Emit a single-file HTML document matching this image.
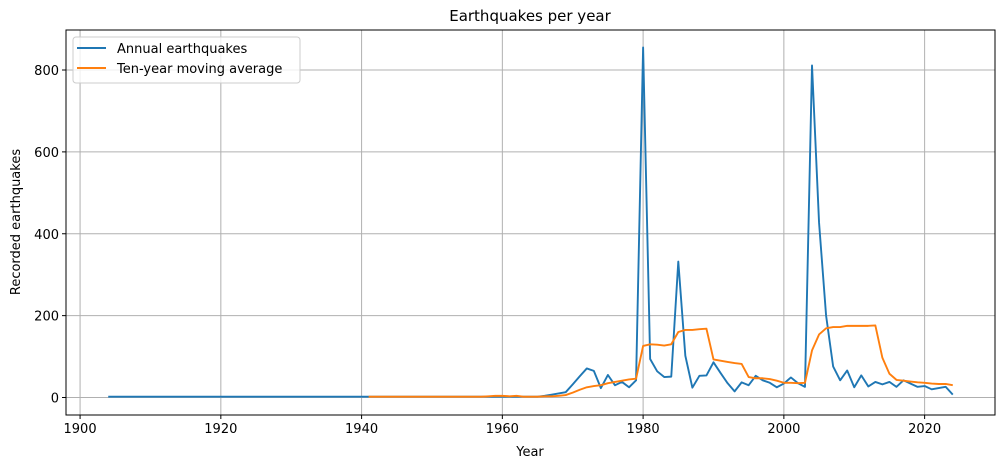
<!DOCTYPE html>
<html><head><meta charset="utf-8"><style>
body{margin:0;background:#fff;}
svg text{font-family:"DejaVu Sans","Liberation Sans",sans-serif;fill:#000;}
</style></head><body>
<svg id="chart" width="1005" height="468" xmlns="http://www.w3.org/2000/svg">
<rect width="1005" height="468" fill="#fff"/>
<g id="grid"></g>
<g id="axes"></g>
<g id="series"></g>
<text x="530" y="21" font-size="15" text-anchor="middle">Earthquakes per year</text>
<text x="530" y="456" font-size="13" text-anchor="middle">Year</text>
<text transform="translate(20,222) rotate(-90)" font-size="13" text-anchor="middle">Recorded earthquakes</text>
<g>
<rect x="73" y="37" width="227" height="46" rx="3" fill="#fff" fill-opacity="0.8" stroke="#ccc"/>
<line x1="77" y1="48" x2="106" y2="48" stroke="#1f77b4" stroke-width="2"/>
<text x="117" y="53" font-size="13">Annual earthquakes</text>
<line x1="77" y1="68" x2="106" y2="68" stroke="#ff7f0e" stroke-width="2"/>
<text x="117" y="73" font-size="13">Ten-year moving average</text>
</g>
</svg>
<script>
const xTicks=[1900,1920,1940,1960,1980,2000,2020];
const yTicks=[0,200,400,600,800];
const annualYears=[];for(let y=1904;y<=2024;y++)annualYears.push(y);
const annualEarly=[2,2,2,2,2,2,2,2,2,2,2,2,2,2,2,2,2,2,2,2,2,2,2,2,2,2,2,2,2,2,2,2,2,2,2,2,2,2,2,2,2,2,2,2,2,2,2,2,2,2,2,2,2,2,2,2,2,2,2,2,2,2];
const annualLate=[4,7,10,13,32,52,71,65,23,55,30,38,25,42,855,94,64,50,51,332,102,24,53,54,86,60,35,15,37,30,53,42,36,25,34,49,35,26,811,427,200,76,42,66,25,54,27,38,32,38,26,42,34,26,28,20,23,26,7];
const annualValues=annualEarly.concat(annualLate);
const avgYears=[];for(let y=1941;y<=2024;y++)avgYears.push(y);
const avgEarly=[2,2,2,2,2,2,2,2,2,2,2,2,2,2,2,2,2,3,4,4,3,4,2,2,2];
const avgLate=[3,3,4,6,12,19,25,28,30,35,38,41,44,46,126,130,129,127,130,160,165,165,167,168,93,90,87,84,82,50,47,47,45,41,36,36,35,36,115,154,169,172,172,175,175,175,175,176,97,58,43,41,39,37,36,34,33,33,30];
const avgValues=avgEarly.concat(avgLate);

const L=66,R=995,T=30,B=415,X0=1898,X1=2030,Y0=-42.75,Y1=897.75;
const sx=v=>L+(v-X0)/(X1-X0)*(R-L);
const sy=v=>B-(v-Y0)/(Y1-Y0)*(B-T);
const NS="http://www.w3.org/2000/svg";
function mk(tag,parent,attrs){const e=document.createElementNS(NS,tag);for(const k in attrs)e.setAttribute(k,attrs[k]);parent.appendChild(e);return e;}
const grid=document.getElementById('grid'),axes=document.getElementById('axes'),series=document.getElementById('series');
xTicks.forEach(t=>{const x=sx(t);
 const g=mk('line',grid,{x1:x,x2:x,y1:T,y2:B,stroke:'#b0b0b0','stroke-width':1});
 
 
 mk('line',axes,{x1:x,x2:x,y1:B,y2:B+4,stroke:'#000'});
 const tx=mk('text',axes,{x:x,y:B+18,'font-size':13,'text-anchor':'middle'});tx.textContent=t;
 
 
});
yTicks.forEach(t=>{const y=sy(t);
 const g=mk('line',grid,{x1:L,x2:R,y1:y,y2:y,stroke:'#b0b0b0','stroke-width':1});
 
 
 mk('line',axes,{x1:L-4,x2:L,y1:y,y2:y,stroke:'#000'});
 const tx=mk('text',axes,{x:L-7,y:y+5,'font-size':13,'text-anchor':'end'});tx.textContent=t;
 
 
});
const frame=mk('rect',axes,{x:L,y:T,width:R-L,height:B-T,fill:'none',stroke:'#000','stroke-width':1});


const p1=mk('polyline',series,{points:annualYears.map((y,i)=>sx(y)+','+sy(annualValues[i])).join(' '),fill:'none',stroke:'#1f77b4','stroke-width':1.9,'stroke-linejoin':'round'});


const p2=mk('polyline',series,{points:avgYears.map((y,i)=>sx(y)+','+sy(avgValues[i])).join(' '),fill:'none',stroke:'#ff7f0e','stroke-width':1.9,'stroke-linejoin':'round'});


</script>
</body></html>
